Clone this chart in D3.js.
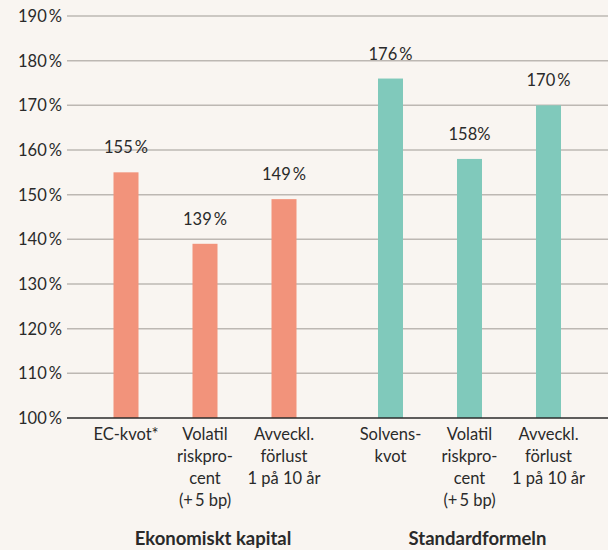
<!DOCTYPE html>
<html>
<head>
<meta charset="utf-8">
<script src="https://cdn.jsdelivr.net/npm/d3@7"></script>
<style>
  html, body { margin: 0; padding: 0; background: #f9f5f1; }
  text { font-family: Lato, "Open Sans", sans-serif; fill: #2a2a2a; }
</style>
</head>
<body>
<script>
// Data
const groups = ["Ekonomiskt kapital", "Standardformeln"];
const categories = [
  ["EC-kvot*"],
  ["Volatil", "riskpro-", "cent", "(+\u20095 bp)"],
  ["Avveckl.", "förlust", "1 på 10 år"],
  ["Solvens-", "kvot"],
  ["Volatil", "riskpro-", "cent", "(+\u20095 bp)"],
  ["Avveckl.", "förlust", "1 på 10 år"]
];
const groupOf = [0, 0, 0, 1, 1, 1];
const slotOf = [0, 1, 2, 0, 1, 2];
const values = [155, 139, 149, 176, 158, 170];
const valueLabels = ["155\u2009%", "139\u2009%", "149\u2009%", "176\u2009%", "158%", "170\u2009%"];
const yTicks = [100, 110, 120, 130, 140, 150, 160, 170, 180, 190];
const colors = ["#f2937b", "#80c9bb"];

// Setup
const width = 608;
const height = 550;
const xLeft = 67;
const barWidth = 25;

const svg = d3.select("body")
  .append("svg")
  .attr("width", width)
  .attr("height", height);

const y = d3.scaleLinear().domain([100, 190]).range([418, 16]);

// outer scale for groups, inner scale for bars within group
const x0 = d3.scalePoint().domain(groups).range([205, 469.5]);
const x1 = d3.scalePoint().domain([0, 1, 2]).range([-79, 79]);
const xBar = (i) => x0(groups[groupOf[i]]) + x1(slotOf[i]);

// Grid lines
svg.append("g")
  .selectAll("line")
  .data(yTicks.filter(d => d > 100))
  .join("line")
  .attr("x1", xLeft)
  .attr("x2", width)
  .attr("y1", d => y(d))
  .attr("y2", d => y(d))
  .attr("stroke", "#bdb8b3")
  .attr("stroke-width", 1.5);

// Y tick labels
svg.append("g")
  .selectAll("text")
  .data(yTicks)
  .join("text")
  .attr("x", 62)
  .attr("y", d => y(d) + 6)
  .attr("text-anchor", "end")
  .attr("font-size", 16.5)
  .text(d => d + "\u2009%");

// Bars
svg.append("g")
  .selectAll("rect")
  .data(values)
  .join("rect")
  .attr("x", (d, i) => xBar(i) - barWidth / 2)
  .attr("y", d => y(d))
  .attr("width", barWidth)
  .attr("height", d => y(100) - y(d))
  .attr("fill", (d, i) => colors[groupOf[i]]);

// Baseline
svg.append("line")
  .attr("x1", xLeft)
  .attr("x2", width)
  .attr("y1", y(100))
  .attr("y2", y(100))
  .attr("stroke", "#2a2a2a")
  .attr("stroke-width", 1.5);

// Value labels
svg.append("g")
  .selectAll("text")
  .data(values)
  .join("text")
  .attr("x", (d, i) => xBar(i))
  .attr("y", d => y(d) - 19)
  .attr("text-anchor", "middle")
  .attr("font-size", 16.5)
  .text((d, i) => valueLabels[i]);

// Category labels
const cat = svg.append("g")
  .selectAll("text")
  .data(categories)
  .join("text")
  .attr("x", (d, i) => xBar(i))
  .attr("y", 440)
  .attr("text-anchor", "middle")
  .attr("font-size", 16.5);

cat.selectAll("tspan")
  .data(d => d)
  .join("tspan")
  .attr("x", function() { return d3.select(this.parentNode).attr("x"); })
  .attr("dy", (d, i) => i === 0 ? 0 : 22)
  .text(d => d);

// Group labels
svg.append("g")
  .selectAll("text")
  .data(groups)
  .join("text")
  .attr("x", d => x0(d) + 8)
  .attr("y", 545)
  .attr("text-anchor", "middle")
  .attr("font-size", 18.5)
  .attr("font-weight", "bold")
  .text(d => d);
</script>
</body>
</html>
